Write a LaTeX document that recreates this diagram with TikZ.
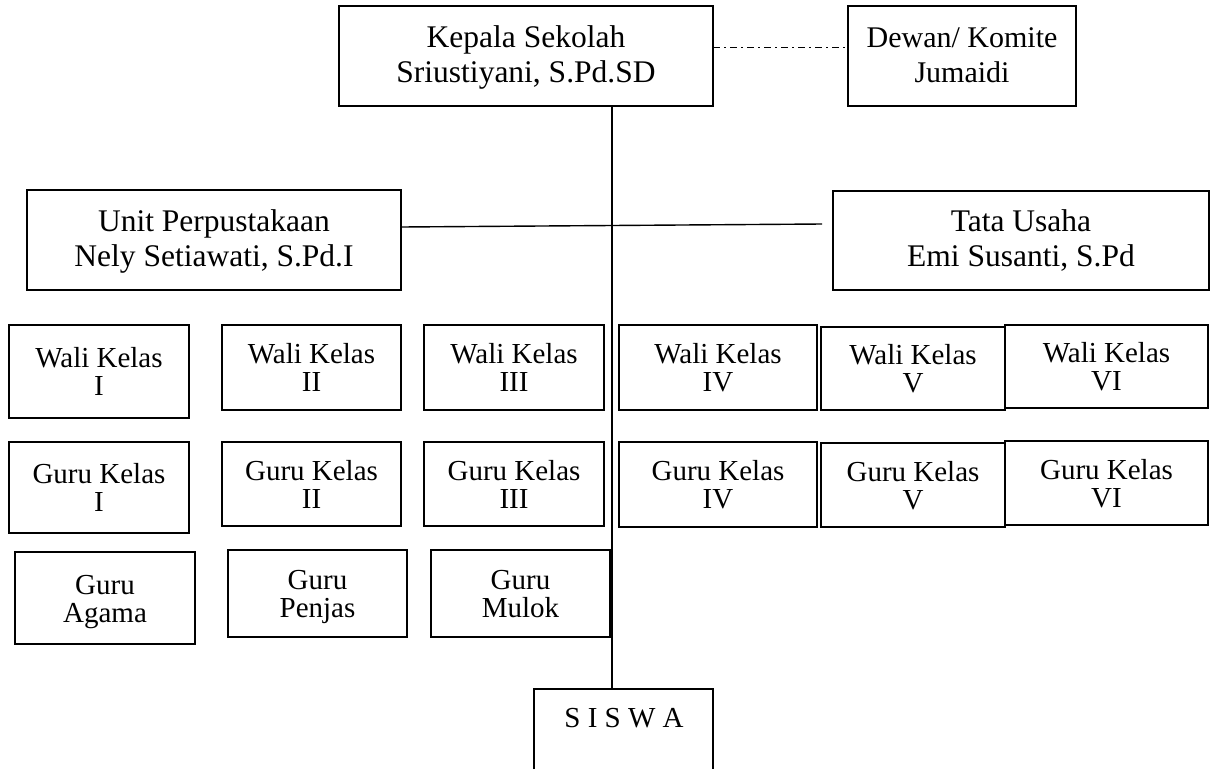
\documentclass[tikz,border=0pt]{standalone}
\usepackage{fontspec}
\setmainfont{Liberation Serif}
\usetikzlibrary{calc}
\begin{document}
\begin{tikzpicture}[x=1pt,y=-1pt,line width=1.4pt,
  boxst/.style={draw,inner sep=0pt,outer sep=0pt},
  bigtxt/.style={font=\fontsize{31.5}{35}\selectfont,inner sep=0pt},
  midtxt/.style={font=\fontsize{30}{33}\selectfont,inner sep=0pt},
  smalltxt/.style={font=\fontsize{29}{28}\selectfont,inner sep=0pt},
  link/.style={line width=1.4pt}]
\useasboundingbox (0,0) rectangle (1213,769);
\newcommand\orgframe[5]{%
  \node[boxst,minimum width={#4-#2},minimum height={#5-#3}] (#1) at ({(#2+#4)/2},{(#3+#5)/2}) {};}
\newcommand\bigbox[7]{\orgframe{#1}{#2}{#3}{#4}{#5}%
  \node[bigtxt,anchor=base] (#1-a) at ($(#1.center)+(0,-9)$) {#6};
  \node[bigtxt,anchor=base] (#1-b) at ($(#1.center)+(0,26)$) {#7};}
\newcommand\smallbox[7]{\orgframe{#1}{#2}{#3}{#4}{#5}%
  \node[smalltxt,anchor=base] (#1-a) at ($(#1.center)+(0,-4)$) {#6};
  \node[smalltxt,anchor=base] (#1-b) at ($(#1.center)+(0,24)$) {#7};}
\bigbox{kepala}{339}{6}{713}{106}{Kepala Sekolah}{Sriustiyani, S.Pd.SD}
\orgframe{dewan}{848}{6}{1076}{106}
\node[midtxt,anchor=base] (dewan-a) at ($(dewan.center)+(0,-9)$) {Dewan/ Komite};
\node[midtxt,anchor=base] (dewan-b) at ($(dewan.center)+(0,26)$) {Jumaidi};
\bigbox{unit}{27}{190}{401}{290}{Unit Perpustakaan}{Nely Setiawati, S.Pd.I}
\bigbox{tata}{833}{191}{1209}{290}{Tata Usaha}{Emi Susanti, S.Pd}
\smallbox{w1}{9}{325}{189}{418}{Wali Kelas}{I}
\smallbox{w2}{222}{325}{401}{410}{Wali Kelas}{II}
\smallbox{w3}{424}{325}{604}{410}{Wali Kelas}{III}
\smallbox{w4}{619}{325}{817}{410}{Wali Kelas}{IV}
\smallbox{w5}{821}{327}{1005}{410}{Wali Kelas}{V}
\smallbox{w6}{1005}{325}{1208}{408}{Wali Kelas}{VI}
\smallbox{g1}{9}{442}{189}{533}{Guru Kelas}{I}
\smallbox{g2}{222}{442}{401}{526}{Guru Kelas}{II}
\smallbox{g3}{424}{442}{604}{526}{Guru Kelas}{III}
\smallbox{g4}{619}{442}{817}{527}{Guru Kelas}{IV}
\smallbox{g5}{821}{443}{1005}{527}{Guru Kelas}{V}
\smallbox{g6}{1005}{441}{1208}{525}{Guru Kelas}{VI}
\smallbox{agama}{15}{552}{195}{644}{Guru}{Agama}
\smallbox{penjas}{228}{550}{407}{637}{Guru}{Penjas}
\smallbox{mulok}{431}{550}{610}{637}{Guru}{Mulok}
% SISWA (open at the bottom)
\coordinate (sBL) at (534,769);
\coordinate (sTL) at (534,689);
\coordinate (sTR) at (713,689);
\coordinate (sBR) at (713,769);
\draw (sBL) -- (sTL) -- (sTR) -- (sBR);
\node[smalltxt,anchor=base] (siswa) at (624,727) {S I S W A};
% connectors
\coordinate (vtop) at (612,106);
\coordinate (vbot) at (612,689);
\draw[link] (vtop) -- (vbot);
\coordinate (uR) at (401,227);
\coordinate (tL) at (822,224);
\draw[link] (uR) -- (tL);
\coordinate (kR) at (713,47);
\coordinate (dL) at (848,47);
\draw[line width=1pt,dash pattern=on 7pt off 4pt on 2pt off 4pt] (kR) -- (dL);
\end{tikzpicture}
\end{document}
